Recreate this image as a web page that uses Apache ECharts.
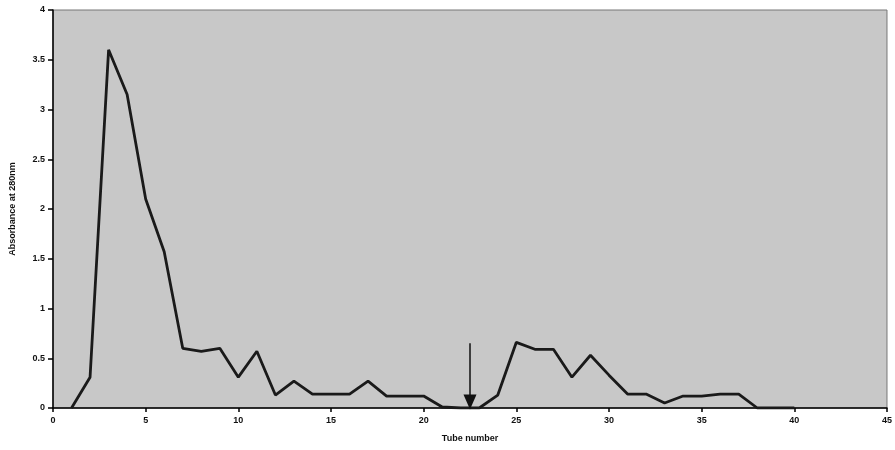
<!DOCTYPE html>
<html>
<head>
<meta charset="utf-8">
<script src="https://cdn.jsdelivr.net/npm/echarts@6/dist/echarts.min.js"></script>
<style>
  html, body { margin: 0; padding: 0; background: #fff; }
  #chart { width: 895px; height: 450px; }
</style>
</head>
<body>
<div id="chart"></div>
<script>
  // tube numbers and absorbance
  const tubes = [1, 2, 3, 4, 5, 6, 7, 8, 9, 10, 11, 12, 13, 14, 15, 16, 17, 18, 19, 20,
                 21, 22, 23, 24, 25, 26, 27, 28, 29, 30, 31, 32, 33, 34, 35, 36, 37, 38, 39, 40]
  const absorbance = [0, 0.31, 3.6, 3.15, 2.1, 1.57, 0.6, 0.57, 0.6, 0.31, 0.57, 0.13, 0.27, 0.14, 0.14, 0.14, 0.27, 0.12, 0.12, 0.12,
                      0.01, 0, 0, 0.13, 0.66, 0.59, 0.59, 0.31, 0.53, 0.33, 0.14, 0.14, 0.05, 0.12, 0.12, 0.14, 0.14, 0, 0, 0]
  const yTicks = ['0', '0.5', '1', '1.5', '2', '2.5', '3', '3.5', '4']
  // elution arrow (tube position, top and bottom)
  const arrowX = 22.5
  const arrowY = [0.65, 0.06]

  const chart = echarts.init(document.getElementById('chart'))

  const font = { fontFamily: 'Liberation Sans', fontWeight: 'bold', fontSize: 9, color: '#111' }

  const option = {
    backgroundColor: '#fff',
    animation: false,
    grid: {
      left: 49, right: 4, top: 10, bottom: 42,
      show: true,
      backgroundColor: '#c8c8c8',
      borderColor: '#777',
      borderWidth: 1
    },
    xAxis: {
      type: 'value',
      min: 0, max: 45, interval: 5,
      name: 'Tube number',
      nameLocation: 'middle',
      nameGap: 26,
      nameTextStyle: font,
      axisLine: { lineStyle: { color: '#000', width: 1.5 } },
      axisTick: { show: true, length: 4, lineStyle: { color: '#000', width: 1.5 } },
      axisLabel: Object.assign({ margin: 8 }, font),
      splitLine: { show: false }
    },
    yAxis: {
      type: 'value',
      min: 0, max: 4, interval: 0.5,
      name: 'Absorbance at 280nm',
      nameLocation: 'middle',
      nameGap: 36,
      nameTextStyle: font,
      axisLine: { show: true, lineStyle: { color: '#000', width: 1.5 } },
      axisTick: { show: true, length: 5, lineStyle: { color: '#000', width: 1.5 } },
      axisLabel: Object.assign({ margin: 8, formatter: v => yTicks[Math.round(v * 2)] }, font),
      splitLine: { show: false }
    },
    series: [{
      type: 'line',
      data: tubes.map((t, i) => [t, absorbance[i]]),
      showSymbol: false,
      lineStyle: { color: '#1a1a1a', width: 2.8 },
      markLine: {
        silent: true,
        symbol: ['none', 'triangle'],
        symbolSize: [13, 15],
        label: { show: false },
        lineStyle: { color: '#111', width: 1.5, type: 'solid' },
        data: [[{ coord: [arrowX, arrowY[0]] }, { coord: [arrowX, arrowY[1]] }]]
      }
    }]
  }

  chart.setOption(option)
</script>
</body>
</html>
